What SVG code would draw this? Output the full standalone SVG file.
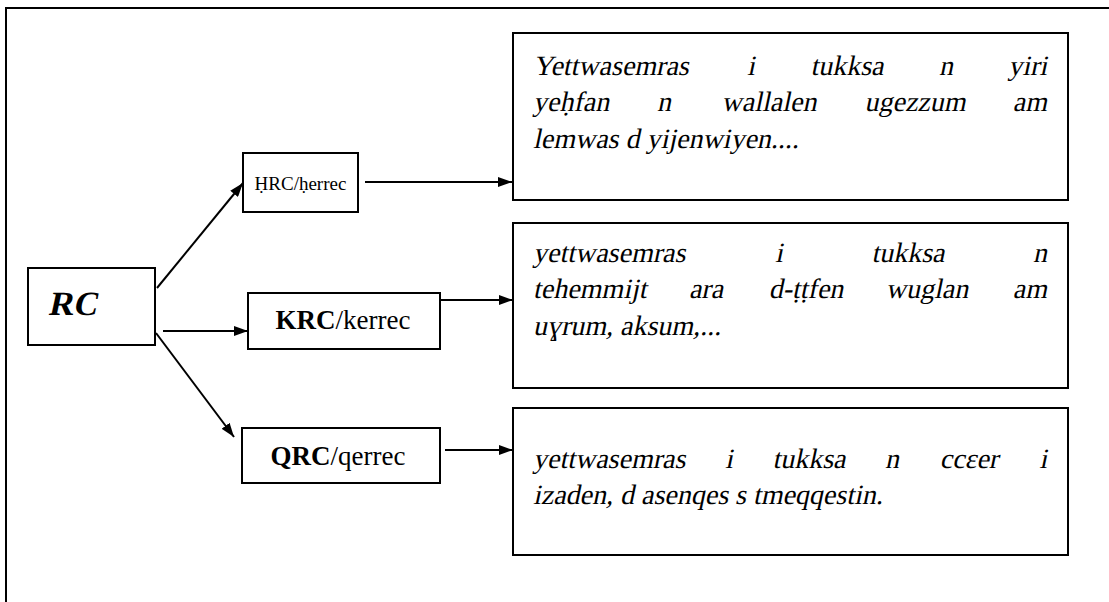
<svg xmlns="http://www.w3.org/2000/svg" width="1109" height="602" viewBox="0 0 1109 602">
<style>
.box{fill:#fff;stroke:#000;stroke-width:2}
.frame{fill:none;stroke:#000;stroke-width:2}
.conn{stroke:#000;stroke-width:2;fill:none;marker-end:url(#arr)}
.body{font-family:"Liberation Serif","Times New Roman",serif;font-size:28px;fill:#000}
.lab{font-family:"Liberation Serif","Times New Roman",serif;fill:#000}
.rc{font-family:"Liberation Serif","Times New Roman",serif;font-weight:bold;font-size:34px;fill:#000}
.m{text-anchor:middle}
.e{text-anchor:end}
</style>
<defs>
<marker id="arr" markerUnits="userSpaceOnUse" markerWidth="14" markerHeight="10" refX="14" refY="5" orient="auto">
<path d="M0,0 L14,5 L0,10 z" fill="#000"/>
</marker>
</defs>
<rect width="1109" height="602" fill="#fff"/>
<path class="frame" d="M6,602 V8 H1109"/>

<g id="node-rc">
<rect class="box" x="28" y="268" width="127" height="77"/>
<text class="rc" transform="translate(48,315) skewX(-12)">RC</text>
</g>
<g id="node-hrc">
<rect class="box" x="243" y="153" width="115" height="59"/>
<text class="lab" x="300.5" y="190" font-size="19" text-anchor="middle">ḤRC/ḥerrec</text>
</g>
<g id="node-krc">
<rect class="box" x="248" y="293" width="192" height="56"/>
<text class="lab" x="343" y="329" font-size="27" text-anchor="middle"><tspan font-weight="bold">KRC</tspan>/kerrec</text>
</g>
<g id="node-qrc">
<rect class="box" x="242" y="428" width="198" height="55"/>
<text class="lab" x="338" y="465" font-size="27" text-anchor="middle"><tspan font-weight="bold">QRC</tspan>/qerrec</text>
</g>

<g id="node-def1">
<rect class="box" x="513" y="33" width="555" height="167"/>
<text class="body" transform="translate(533,75) skewX(-12)">Yettwasemras</text>
<text class="body m" transform="translate(751,75) skewX(-12)">i</text>
<text class="body m" transform="translate(847,75) skewX(-12)">tukksa</text>
<text class="body m" transform="translate(946,75) skewX(-12)">n</text>
<text class="body e" transform="translate(1047,75) skewX(-12)">yiri</text>
<text class="body" transform="translate(533,111) skewX(-12)">yeḥfan</text>
<text class="body m" transform="translate(664,111) skewX(-12)">n</text>
<text class="body m" transform="translate(769,111) skewX(-12)">wallalen</text>
<text class="body m" transform="translate(915,111) skewX(-12)">ugezzum</text>
<text class="body e" transform="translate(1047,111) skewX(-12)">am</text>
<text class="body" transform="translate(533,148) skewX(-12)">lemwas d yijenwiyen....</text>
</g>
<g id="node-def2">
<rect class="box" x="513" y="223" width="555" height="165"/>
<text class="body" transform="translate(533,262) skewX(-12)">yettwasemras</text>
<text class="body m" transform="translate(779,262) skewX(-12)">i</text>
<text class="body m" transform="translate(908,262) skewX(-12)">tukksa</text>
<text class="body e" transform="translate(1047,262) skewX(-12)">n</text>
<text class="body" transform="translate(533,298) skewX(-12)">tehemmijt</text>
<text class="body m" transform="translate(706,298) skewX(-12)">ara</text>
<text class="body m" transform="translate(806,298) skewX(-12)">d-ṭṭfen</text>
<text class="body m" transform="translate(927,298) skewX(-12)">wuglan</text>
<text class="body e" transform="translate(1047,298) skewX(-12)">am</text>
<text class="body" transform="translate(533,335) skewX(-12)">uɣrum, aksum,...</text>
</g>
<g id="node-def3">
<rect class="box" x="513" y="408" width="555" height="147"/>
<text class="body" transform="translate(533,468) skewX(-12)">yettwasemras</text>
<text class="body m" transform="translate(729,468) skewX(-12)">i</text>
<text class="body m" transform="translate(809,468) skewX(-12)">tukksa</text>
<text class="body m" transform="translate(892,468) skewX(-12)">n</text>
<text class="body m" transform="translate(969,468) skewX(-12)">ccɛer</text>
<text class="body e" transform="translate(1047,468) skewX(-12)">i</text>
<text class="body" transform="translate(533,504) skewX(-12)">izaden, d asenqes s tmeqqestin.</text>
</g>

<g id="connectors">
<line class="conn" x1="157" y1="288" x2="243" y2="183"/>
<line class="conn" x1="163" y1="331" x2="248" y2="331"/>
<line class="conn" x1="156" y1="333" x2="234" y2="437"/>
<line class="conn" x1="365" y1="182" x2="512" y2="182"/>
<line class="conn" x1="441" y1="300" x2="513" y2="300"/>
<line class="conn" x1="445" y1="450" x2="513" y2="450"/>
</g>
</svg>
